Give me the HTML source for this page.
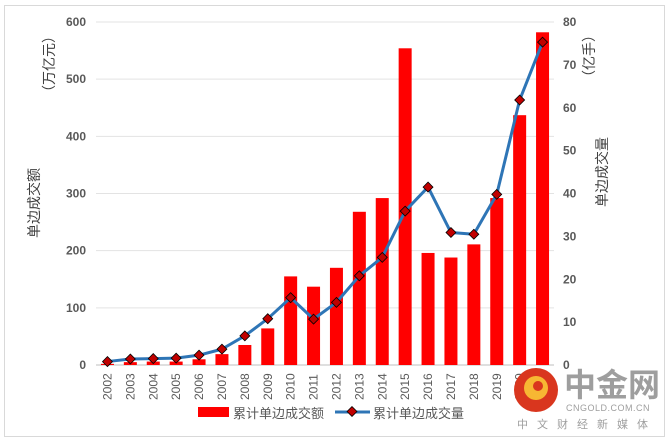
<!DOCTYPE html>
<html><head><meta charset="utf-8">
<style>
body{margin:0;background:#fff;width:670px;height:440px;overflow:hidden}
svg text{font-family:"Liberation Sans","Noto Sans CJK SC",sans-serif}
</style></head>
<body>
<svg id="chart" width="670" height="440" xmlns="http://www.w3.org/2000/svg">
<rect x="4.5" y="5.5" width="660" height="431" fill="#fff" stroke="#d9d9d9"/>
<g id="grid"></g><g id="bars"></g><g id="line"></g><g id="axes"></g>
<text transform="translate(39,203) rotate(-90)" text-anchor="middle" font-size="14" fill="#404040">单边成交额</text>
<text transform="translate(54,64) rotate(-90)" text-anchor="middle" font-size="14" fill="#404040">（万亿元）</text>
<text transform="translate(607,172) rotate(-90)" text-anchor="middle" font-size="14" fill="#404040">单边成交量</text>
<text transform="translate(594,56) rotate(-90)" text-anchor="middle" font-size="14" fill="#404040">（亿手）</text>
<g>
<rect x="198" y="407" width="31" height="10" fill="#ff0000"/>
<text x="233" y="418" font-size="13" fill="#595959">累计单边成交额</text>
<line x1="335" y1="412" x2="370" y2="412" stroke="#2e75b6" stroke-width="3"/>
<rect x="348.5" y="408" width="7" height="7" fill="#c00000" stroke="#000" stroke-width="0.8" transform="rotate(45 352 411.5)"/>
<text x="373" y="418" font-size="13" fill="#595959">累计单边成交量</text>
</g>
<g>
<circle cx="536" cy="390" r="22" fill="#d9361e"/>
<circle cx="536" cy="388" r="12" fill="#f7b733"/>
<circle cx="538" cy="386" r="5" fill="#d9361e"/>
<text x="564" y="396" font-size="32" font-weight="bold" fill="#9e9e9e" font-family="Noto Sans CJK SC,sans-serif">中金网</text>
<text x="566" y="411" font-size="9" fill="#9e9e9e" letter-spacing="0.5">CNGOLD.COM.CN</text>
<text x="517" y="428" font-size="11" fill="#9e9e9e" letter-spacing="9">中文财经新媒体</text>
</g>
</svg>
<script>
const years=["2002","2003","2004","2005","2006","2007","2008","2009","2010","2011","2012","2013","2014","2015","2016","2017","2018","2019","2020","2021"];
const amount=[2,5,6,6,10,19,35,64,155,137,170,268,292,554,196,188,211,292,437,582];
const volume=[0.8,1.4,1.5,1.6,2.3,3.7,6.8,10.8,15.7,10.7,14.6,20.8,25.1,35.9,41.5,30.9,30.5,39.8,61.8,75.3];
const leftTicks=[0,100,200,300,400,500,600];
const rightTicks=[0,10,20,30,40,50,60,70,80];
const X0=96,X1=554,Y0=365,Y1=22;
const step=(X1-X0)/years.length;
const xc=i=>X0+step*(i+0.5);
const yl=v=>Y0-(v/600)*(Y0-Y1);
const yr=v=>Y0-(v/80)*(Y0-Y1);
const NS="http://www.w3.org/2000/svg";
function mk(tag,attrs,parent,txt){const e=document.createElementNS(NS,tag);for(const k in attrs)e.setAttribute(k,attrs[k]);if(txt!==undefined)e.textContent=txt;document.getElementById(parent).appendChild(e);return e;}
leftTicks.forEach(t=>{
 const g=mk('line',{x1:X0,x2:X1,y1:yl(t),y2:yl(t),stroke:t===0?'#bfbfbf':'#e3e3e3','stroke-width':1},'grid');
 
 
 const l=mk('text',{x:86,y:yl(t)+4,'text-anchor':'end','font-size':12,fill:'#595959','font-weight':'bold'},'axes',t);
 
 
});
rightTicks.forEach(t=>{
 const l=mk('text',{x:563,y:yr(t)+4,'font-size':12,fill:'#595959','font-weight':'bold'},'axes',t);
 
 
});
years.forEach((y,i)=>{
 const b=mk('rect',{x:xc(i)-6.5,y:yl(amount[i]),width:13,height:Y0-yl(amount[i]),fill:'#ff0000'},'bars');
 
 
 const l=mk('text',{transform:`translate(${xc(i)+4},400) rotate(-90)`,'font-size':12,fill:'#595959'},'axes',y);
 
 
});
const pts=volume.map((v,i)=>xc(i)+','+yr(v)).join(' ');
const pl=mk('polyline',{points:pts,fill:'none',stroke:'#2e75b6','stroke-width':3,'stroke-linejoin':'round'},'line');


volume.forEach((v,i)=>{
 const m=mk('rect',{x:xc(i)-3.5,y:yr(v)-3.5,width:7,height:7,fill:'#c00000',stroke:'#000','stroke-width':0.8,transform:`rotate(45 ${xc(i)} ${yr(v)})`},'line');
 
 
});
</script>
</body></html>
